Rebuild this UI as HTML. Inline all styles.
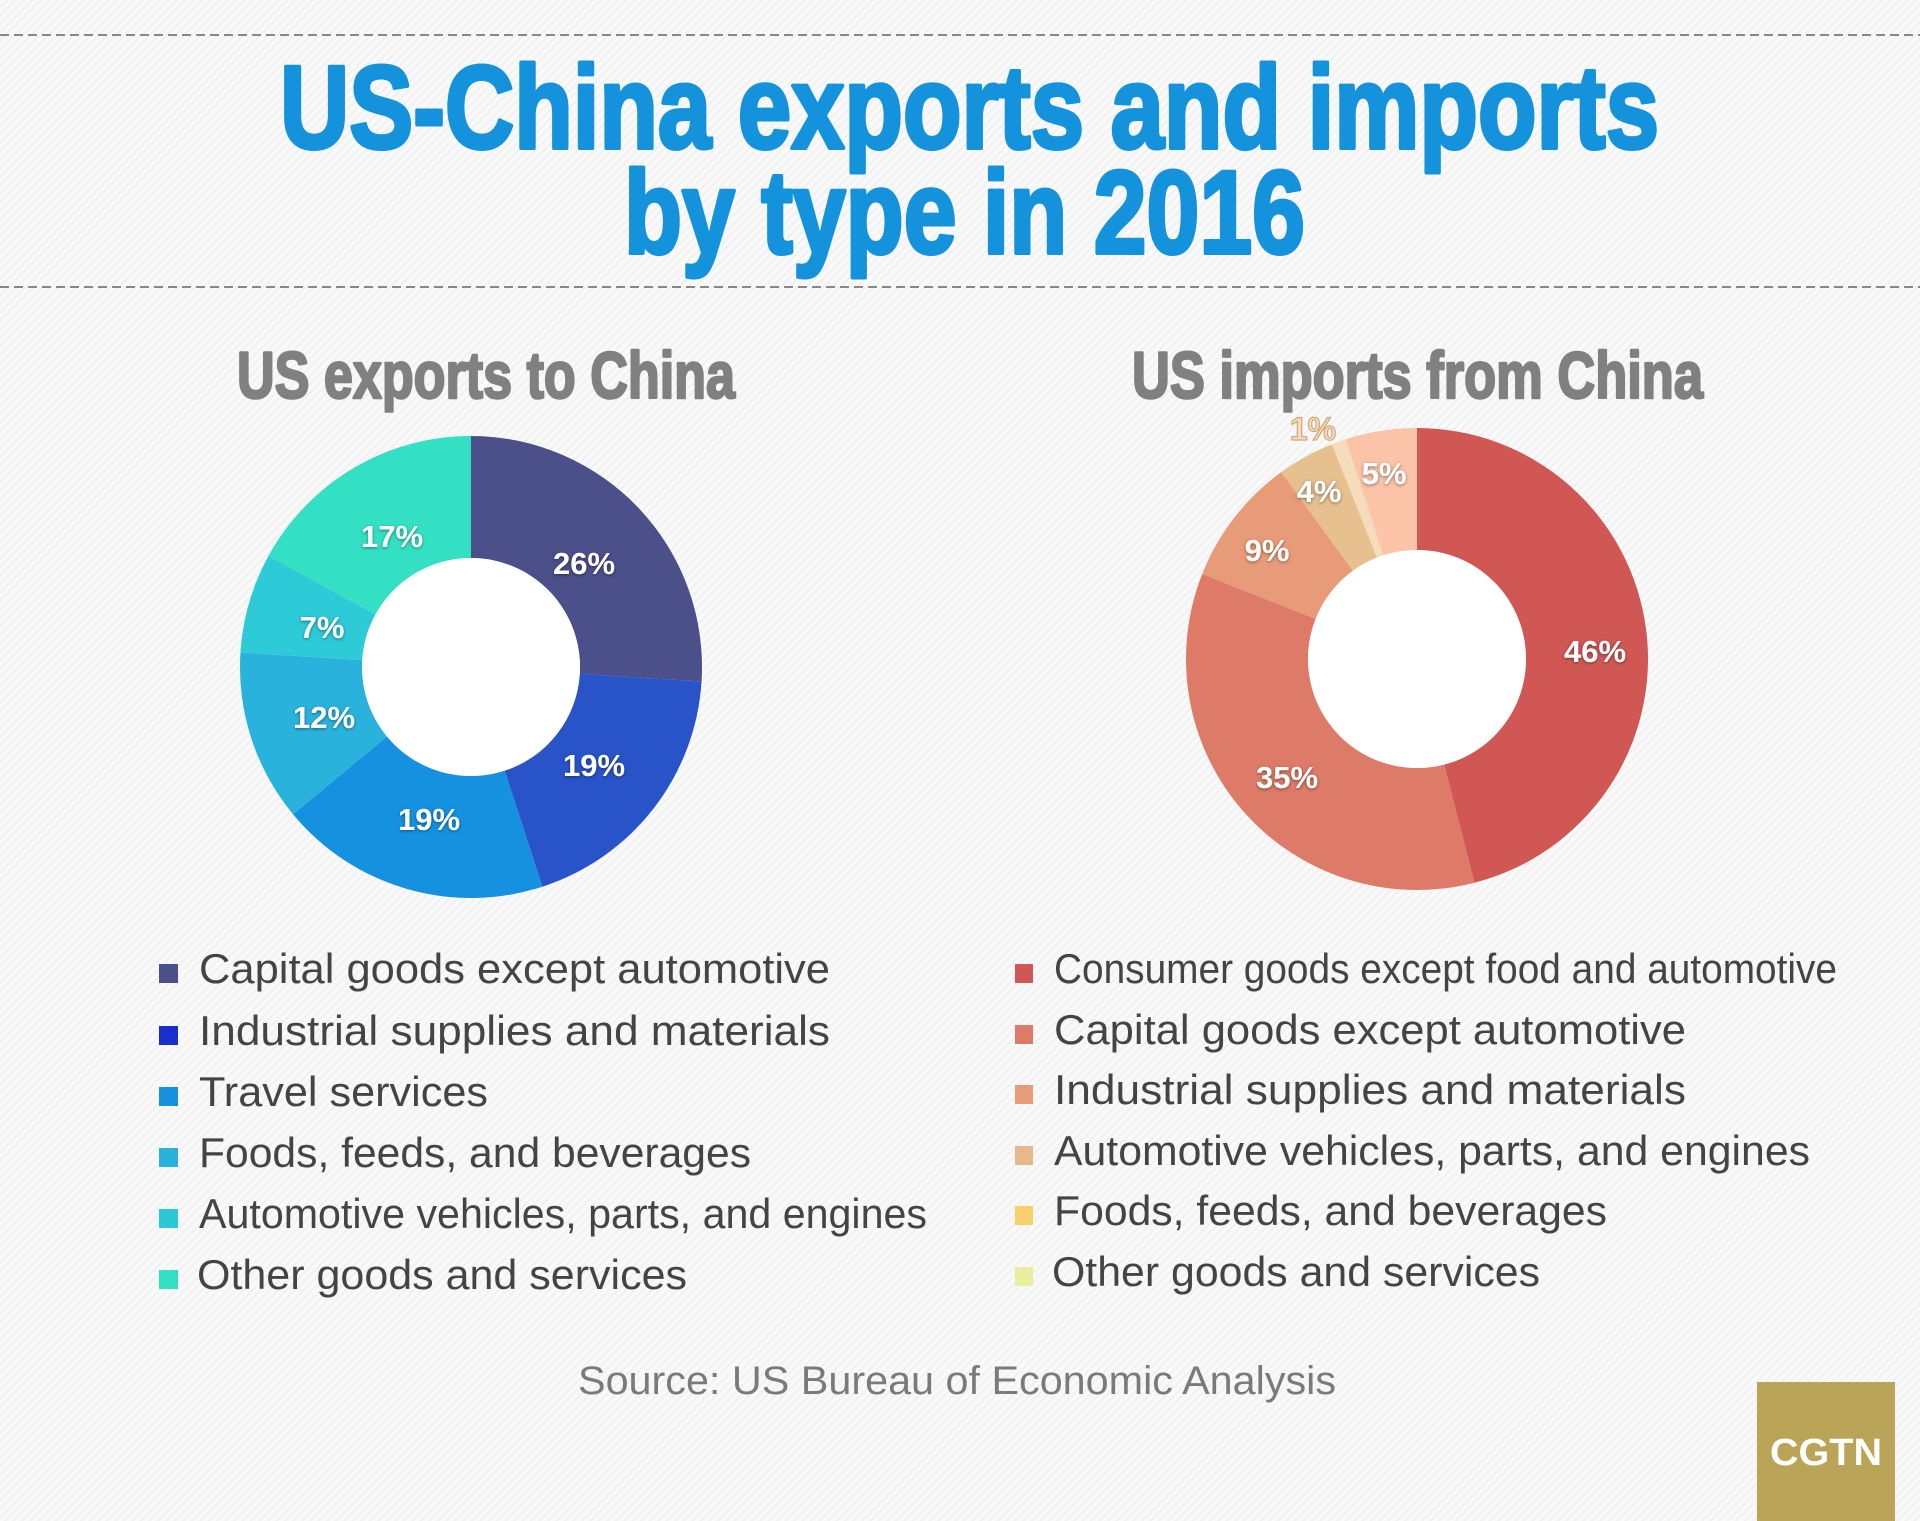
<!DOCTYPE html>
<html><head><meta charset="utf-8"><style>
html,body{margin:0;padding:0;}
body{width:1920px;height:1521px;overflow:hidden;background:#f6f6f6;
background-image:repeating-linear-gradient(135deg,#f9f9f9 0 4px,#f1f1f1 4px 6px);}
svg{display:block;}
</style></head><body>
<svg id="s" width="1920" height="1521" viewBox="0 0 1920 1521" xmlns="http://www.w3.org/2000/svg">
<defs><filter id="sh" x="-20%" y="-20%" width="140%" height="140%"><feDropShadow dx="0" dy="1" stdDeviation="1.5" flood-color="#000" flood-opacity="0.45"/></filter></defs>
<line x1="0" y1="35" x2="1920" y2="35" stroke="#888" stroke-width="2" stroke-dasharray="9,5"/>
<line x1="0" y1="287" x2="1920" y2="287" stroke="#888" stroke-width="2" stroke-dasharray="9,5"/>
<g font-family="Liberation Sans, sans-serif" font-weight="bold" fill="#1493dc" stroke="#1493dc" stroke-width="4" stroke-linejoin="round">
<text x="280" y="148" font-size="118" textLength="1379" lengthAdjust="spacingAndGlyphs">US-China exports and imports</text>
<text x="624" y="253" font-size="118" textLength="681" lengthAdjust="spacingAndGlyphs">by type in 2016</text>
</g>
<g font-family="Liberation Sans, sans-serif" font-weight="bold" fill="#808080" stroke="#808080" stroke-width="2.5" stroke-linejoin="round">
<text x="237" y="398" font-size="66" textLength="498" lengthAdjust="spacingAndGlyphs">US exports to China</text>
<text x="1132" y="398" font-size="66" textLength="571" lengthAdjust="spacingAndGlyphs">US imports from China</text>
</g>
<g id="d1"></g><g id="d2"></g>
<g font-family="Liberation Sans, sans-serif" font-weight="bold" font-size="31" fill="#fff" text-anchor="middle" filter="url(#sh)">
<text x="584" y="574">26%</text><text x="594" y="776">19%</text><text x="429" y="830">19%</text>
<text x="324" y="728">12%</text><text x="322" y="638">7%</text><text x="392" y="547">17%</text>
<text x="1595" y="662">46%</text><text x="1287" y="788">35%</text><text x="1267" y="561">9%</text>
<text x="1319" y="502">4%</text><text x="1384" y="484">5%</text>
</g>
<text x="1313" y="440" font-family="Liberation Sans, sans-serif" font-weight="bold" font-size="32" fill="#f3dcc0" stroke="#cfa97a" stroke-width="1.2" text-anchor="middle">1%</text>
<g font-family="Liberation Sans, sans-serif" font-size="42" fill="#444">
<rect x="159" y="964" width="19" height="19" fill="#4b4f8a"/><text x="199" y="983" textLength="631" lengthAdjust="spacingAndGlyphs">Capital goods except automotive</text>
<rect x="159" y="1026" width="19" height="19" fill="#1a2ecb"/><text x="199" y="1045" textLength="631" lengthAdjust="spacingAndGlyphs">Industrial supplies and materials</text>
<rect x="159" y="1087" width="19" height="19" fill="#1591e0"/><text x="199" y="1106" textLength="289" lengthAdjust="spacingAndGlyphs">Travel services</text>
<rect x="159" y="1148" width="19" height="19" fill="#29b3dc"/><text x="199" y="1167" textLength="552" lengthAdjust="spacingAndGlyphs">Foods, feeds, and beverages</text>
<rect x="159" y="1209" width="19" height="19" fill="#2dc8d8"/><text x="199" y="1228" textLength="728" lengthAdjust="spacingAndGlyphs">Automotive vehicles, parts, and engines</text>
<rect x="159" y="1270" width="19" height="19" fill="#34e0c4"/><text x="197" y="1289" textLength="490" lengthAdjust="spacingAndGlyphs">Other goods and services</text>

<rect x="1015" y="964" width="18" height="19" fill="#d05754"/><text x="1054" y="983" textLength="783" lengthAdjust="spacingAndGlyphs">Consumer goods except food and automotive</text>
<rect x="1015" y="1025" width="18" height="19" fill="#de7a68"/><text x="1054" y="1044" textLength="632" lengthAdjust="spacingAndGlyphs">Capital goods except automotive</text>
<rect x="1015" y="1085" width="18" height="19" fill="#e89b78"/><text x="1054" y="1104" textLength="632" lengthAdjust="spacingAndGlyphs">Industrial supplies and materials</text>
<rect x="1015" y="1146" width="18" height="19" fill="#e6b98a"/><text x="1054" y="1165" textLength="756" lengthAdjust="spacingAndGlyphs">Automotive vehicles, parts, and engines</text>
<rect x="1015" y="1206" width="18" height="19" fill="#f8cf6a"/><text x="1054" y="1225" textLength="553" lengthAdjust="spacingAndGlyphs">Foods, feeds, and beverages</text>
<rect x="1015" y="1267" width="18" height="19" fill="#e8ee99"/><text x="1052" y="1286" textLength="488" lengthAdjust="spacingAndGlyphs">Other goods and services</text>
</g>
<text x="578" y="1394" font-family="Liberation Sans, sans-serif" font-size="40" fill="#7a7a7a" textLength="758" lengthAdjust="spacingAndGlyphs">Source: US Bureau of Economic Analysis</text>
<rect x="1757" y="1382" width="138" height="139" fill="#b9a458"/>
<text x="1826" y="1465" font-family="Liberation Sans, sans-serif" font-weight="bold" font-size="38" fill="#fff" text-anchor="middle" textLength="112" lengthAdjust="spacingAndGlyphs">CGTN</text>
</svg>
<script>
function donut(id,cx,cy,R,r,vals,cols){
 var g=document.getElementById(id),a=0,ns="http://www.w3.org/2000/svg";
 vals.forEach(function(v,i){
  var a0=a/100*2*Math.PI,a1=(a+v)/100*2*Math.PI;a+=v;
  var p=function(rad,t){return [cx+rad*Math.sin(t),cy-rad*Math.cos(t)];};
  var L=(v>50)?1:0;
  var o0=p(R,a0),o1=p(R,a1),i1=p(r,a1),i0=p(r,a0);
  var d="M"+o0+" A"+R+","+R+" 0 "+L+" 1 "+o1+" L"+i1+" A"+r+","+r+" 0 "+L+" 0 "+i0+" Z";
  var e=document.createElementNS(ns,"path");e.setAttribute("d",d);e.setAttribute("fill",cols[i]);g.appendChild(e);
 });
 var c=document.createElementNS(ns,"circle");c.setAttribute("cx",cx);c.setAttribute("cy",cy);c.setAttribute("r",r);c.setAttribute("fill","#fff");g.appendChild(c);
}
donut("d1",471,667,231,109,[26,19,19,12,7,17],["#4b4f8a","#2953c8","#1591e0","#29b3dc","#2dcad8","#34e0c4"]);
donut("d2",1417,659,231,109,[46,35,9,4,1,5],["#d05754","#de7a68","#e89b78","#e6c08f","#f4dcbc","#fbc3a7"]);
</script>
</body></html>
